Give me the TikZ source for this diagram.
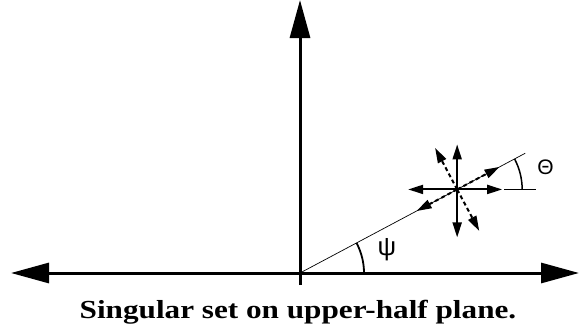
\documentclass[tikz,border=0pt]{standalone}
\usepackage{fontspec}
\setmainfont{Liberation Serif}
\newfontfamily\labelfont{Liberation Sans}
\usetikzlibrary{arrows.meta,calc}
\begin{document}
\begin{tikzpicture}[x=1pt,y=1pt,
  axis/.style={line width=3pt,-{Triangle[length=38pt,width=20pt]}},
  starsolid/.style={line width=2pt,-{Triangle[length=15pt,width=9pt]}},
  stardash/.style={line width=2pt,dash pattern=on 4pt off 3pt,-{Triangle[length=15pt,width=9pt]}},
  thinline/.style={line width=0.7pt},
  anglearc/.style={line width=1.8pt},
  lbl/.style={inner sep=0pt}]
\useasboundingbox (0,0) rectangle (579,333);
\coordinate (O) at (300,60);
\coordinate (Lend) at (11,60);
\coordinate (Rend) at (579,60);
\coordinate (Top) at (300,333);
\coordinate (Bot) at (300,48);
% axes
\draw[axis] (O) -- (Lend);
\draw[axis] (O) -- (Rend);
\draw[axis] (Bot) -- (Top);
% ray
\coordinate (S) at ($(O)+(28:178)$);
\coordinate (RayEnd) at ($(O)+(28:255)$);
\draw[thinline] (O) -- (RayEnd);
% psi arc
\draw[anglearc] ($(O)+(0:64)$) arc[start angle=0,end angle=28,radius=64];
\node[lbl] (psi) at (387,83) {\labelfont\fontsize{26}{28}\selectfont ψ};
% star
\coordinate (HL) at ($(S)+(47,0)$);
\coordinate (HR) at ($(S)+(79,0)$);
\draw[thinline] (HL) -- (HR);
\draw[line width=1.5pt] ($(S)+(0:65)$) arc[start angle=0,end angle=28,radius=65];
\node[lbl] (theta) at (545.5,165.5) {\labelfont\fontsize{21}{23}\selectfont Θ};
\draw[starsolid] (S) -- ++(180:49);
\draw[starsolid] (S) -- ++(0:45);
\draw[starsolid] (S) -- ++(90:45);
\draw[starsolid] (S) -- ++(270:48);
\draw[stardash] (S) -- ++(28:48);
\draw[stardash] (S) -- ++(208:46);
\draw[stardash] (S) -- ++(118:47);
\draw[stardash] (S) -- ++(298:47);
% caption
\node[lbl,anchor=base,xscale=1.2] (cap) at (298,15) {\bfseries\fontsize{26}{30}\selectfont Singular set on upper-half plane.};
\end{tikzpicture}
\end{document}
